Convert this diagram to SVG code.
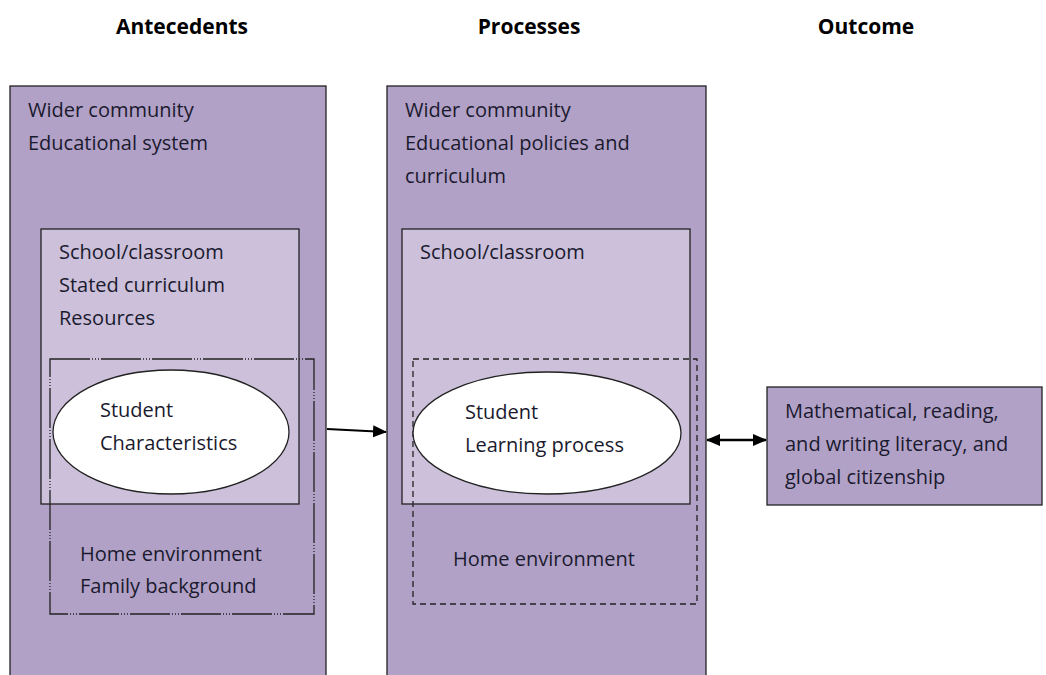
<svg xmlns="http://www.w3.org/2000/svg" width="1046" height="675" viewBox="0 0 1046 675">
<style>
text{font-family:"Open Sans","Liberation Sans",sans-serif;font-size:20px;fill:#1a1a2e}
.h{font-weight:bold;font-size:21px;text-anchor:middle;fill:#000}
.outer{fill:#b2a1c7;stroke:#222;stroke-width:1.3}
.inner{fill:#ccc0da;stroke:#222;stroke-width:1.3}
.ell{fill:#fff;stroke:#222;stroke-width:1.3}
.dd{fill:none;stroke:#222;stroke-width:1.3;stroke-dasharray:40 2 1 2 1 2 1 2}
.dash{fill:none;stroke:#222;stroke-width:1.3;stroke-dasharray:6 4}
.con{stroke:#000;stroke-width:2;fill:none}
.con2{stroke:#000;stroke-width:2.6;fill:none}
</style>
<defs>
<marker id="ah" markerWidth="14" markerHeight="14" refX="13" refY="7" orient="auto-start-reverse" markerUnits="userSpaceOnUse" viewBox="0 0 14 14">
<path d="M0,1 L14,7 L0,13 Z" fill="#000"/>
</marker>
</defs>
<rect width="1046" height="675" fill="#fff"/>
<g id="headers">
<text class="h" x="182" y="34">Antecedents</text>
<text class="h" x="529" y="34">Processes</text>
<text class="h" x="866" y="34">Outcome</text>
</g>
<g id="antecedents">
<rect class="outer" x="10" y="86" width="316" height="600"/>
<text x="28" y="117">Wider community</text>
<text x="28" y="150">Educational system</text>
</g>
<g id="ante-school">
<rect class="inner" x="41" y="229" width="258" height="275"/>
<text x="59" y="259">School/classroom</text>
<text x="59" y="292">Stated curriculum</text>
<text x="59" y="325">Resources</text>
</g>
<g id="ante-home">
<rect class="dd" x="50" y="359" width="264" height="255"/>
<text x="80" y="561">Home environment</text>
<text x="80" y="593">Family background</text>
</g>
<g id="ante-student">
<ellipse class="ell" cx="171" cy="432" rx="118" ry="62"/>
<text x="100" y="417">Student</text>
<text x="100" y="450">Characteristics</text>
</g>
<g id="processes">
<rect class="outer" x="387" y="86" width="319" height="600"/>
<text x="405" y="117">Wider community</text>
<text x="405" y="150">Educational policies and</text>
<text x="405" y="183">curriculum</text>
</g>
<g id="proc-school">
<rect class="inner" x="402" y="229" width="288" height="275"/>
<text x="420" y="259">School/classroom</text>
</g>
<g id="proc-home">
<rect class="dash" x="413" y="359" width="284" height="245"/>
<text x="453" y="566">Home environment</text>
</g>
<g id="proc-student">
<ellipse class="ell" cx="547" cy="433" rx="134" ry="61"/>
<text x="465" y="419">Student</text>
<text x="465" y="452">Learning process</text>
</g>
<g id="outcome">
<rect class="outer" x="767" y="387" width="275" height="118"/>
<text x="785" y="418">Mathematical, reading,</text>
<text x="785" y="451">and writing literacy, and</text>
<text x="785" y="484">global citizenship</text>
</g>
<g id="connectors">
<line class="con" x1="327" y1="429" x2="386" y2="432" marker-end="url(#ah)"/>
<line class="con2" x1="707" y1="440" x2="766" y2="440" marker-start="url(#ah)" marker-end="url(#ah)"/>
</g>
</svg>
